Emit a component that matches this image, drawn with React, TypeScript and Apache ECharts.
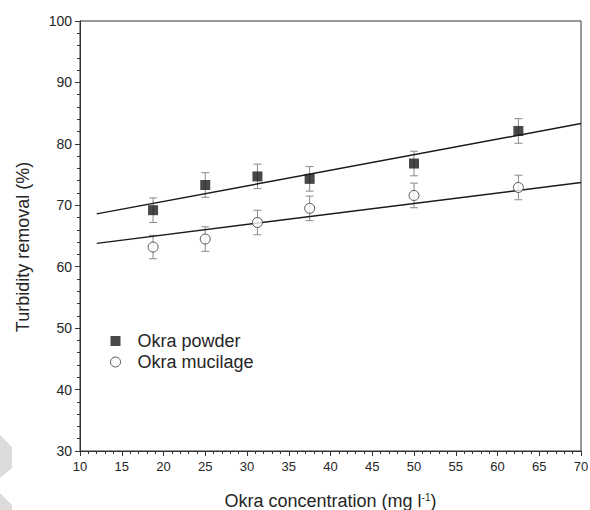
import React, { useEffect, useRef } from "react";
import * as echarts from "echarts";

const concentrations = [18.75, 25, 31.25, 37.5, 50, 62.5];
const powderValues = [69.2, 73.3, 74.7, 74.3, 76.8, 82.1];
const powderErrors = [2.0, 2.0, 2.0, 2.0, 2.0, 2.0];
const mucilageValues = [63.2, 64.5, 67.2, 69.5, 71.6, 72.9];
const mucilageErrors = [1.9, 2.0, 2.0, 2.0, 2.0, 2.0];
const fitX = [12, 70];
const powderFit = [68.6, 83.3];
const mucilageFit = [63.8, 73.7];
const xTicks = [10, 70, 5];
const yTicks = [30, 100, 10];
const yTitle = "Turbidity removal (%)";

const FONT = "'Liberation Sans', Arial, sans-serif";
const TEXT = "#262626";

function errorSeries(name: string, values: number[], errs: number[]) {
  const data = concentrations.map((x, i) => [x, values[i] - errs[i], values[i] + errs[i]]);
  return {
    type: "custom",
    name: name + "-err",
    data,
    z: 1,
    renderItem: (params: any, api: any) => {
      const x = api.value(0);
      const lo = api.coord([x, api.value(1)]);
      const hi = api.coord([x, api.value(2)]);
      const hw = 4;
      const style = { stroke: "#8a8a8a", lineWidth: 1, fill: "none" };
      return {
        type: "group",
        children: [
          { type: "line", shape: { x1: lo[0], y1: lo[1], x2: hi[0], y2: hi[1] }, style },
          { type: "line", shape: { x1: lo[0] - hw, y1: lo[1], x2: lo[0] + hw, y2: lo[1] }, style },
          { type: "line", shape: { x1: hi[0] - hw, y1: hi[1], x2: hi[0] + hw, y2: hi[1] }, style },
        ],
      };
    },
  };
}

export default function App() {
  const ref = useRef<HTMLDivElement>(null);
  useEffect(() => {
    if (!ref.current) return;
    const chart = echarts.init(ref.current, undefined, { renderer: "svg" });
    chart.setOption({
      animation: false,
      backgroundColor: "#ffffff",
      textStyle: { fontFamily: FONT },
      grid: {
        left: 80,
        right: 9,
        top: 21,
        bottom: 59,
        show: true,
        borderColor: "#333",
        borderWidth: 1,
        containLabel: false,
        outerBoundsMode: "none",
      },
      legend: {
        orient: "vertical",
        left: 105,
        top: 327,
        itemWidth: 10,
        itemHeight: 10,
        itemGap: 3,
        textStyle: { fontSize: 18, color: TEXT, fontFamily: FONT, padding: [0, 0, 0, 12] },
        data: [
          { name: "Okra powder", icon: "rect", itemStyle: { color: "#1a1a1a" } },
          {
            name: "Okra mucilage",
            icon: "circle",
            itemStyle: { color: "#ffffff", borderColor: "#333", borderWidth: 1 },
          },
        ],
      },
      xAxis: {
        type: "value",
        min: xTicks[0],
        max: xTicks[1],
        interval: xTicks[2],
        splitLine: { show: false },
        axisLine: { lineStyle: { color: "#333", width: 1 } },
        axisTick: { inside: false, length: 5, lineStyle: { color: "#333" } },
        minorTick: { show: true, splitNumber: 5, length: 3, lineStyle: { color: "#333" } },
        axisLabel: { fontSize: 13, color: TEXT, margin: 9, fontFamily: FONT },
        name: "{a|Okra concentration (mg l}{s|-1}{a|)}",
        nameLocation: "middle",
        nameGap: 41,
        nameTextStyle: {
          rich: {
            a: { fontSize: 18, color: TEXT, fontFamily: FONT },
            s: { fontSize: 10, color: TEXT, fontFamily: FONT, verticalAlign: "top", padding: [0, 0, 8, 0] },
          },
        },
      },
      yAxis: {
        type: "value",
        min: yTicks[0],
        max: yTicks[1],
        interval: yTicks[2],
        splitLine: { show: false },
        axisLine: { show: true, lineStyle: { color: "#333", width: 1 } },
        axisTick: { show: true, inside: false, length: 5, lineStyle: { color: "#333" } },
        minorTick: { show: true, splitNumber: 5, length: 3, lineStyle: { color: "#333" } },
        axisLabel: { fontSize: 14, color: TEXT, margin: 8, fontFamily: FONT },
      },
      series: [
        {
          type: "line",
          name: "powder-fit",
          data: fitX.map((x, i) => [x, powderFit[i]]),
          symbol: "none",
          lineStyle: { color: "#1a1a1a", width: 1.5 },
          z: 2,
          silent: true,
        },
        {
          type: "line",
          name: "mucilage-fit",
          data: fitX.map((x, i) => [x, mucilageFit[i]]),
          symbol: "none",
          lineStyle: { color: "#1a1a1a", width: 1.5 },
          z: 2,
          silent: true,
        },
        errorSeries("Okra powder", powderValues, powderErrors),
        errorSeries("Okra mucilage", mucilageValues, mucilageErrors),
        {
          type: "scatter",
          name: "Okra powder",
          data: concentrations.map((x, i) => [x, powderValues[i]]),
          symbol: "rect",
          symbolSize: 10,
          itemStyle: { color: "#1a1a1a" },
          z: 5,
        },
        {
          type: "scatter",
          name: "Okra mucilage",
          data: concentrations.map((x, i) => [x, mucilageValues[i]]),
          symbol: "circle",
          symbolSize: 10,
          itemStyle: { color: "#ffffff", borderColor: "#333", borderWidth: 1 },
          z: 5,
        },
      ],
      graphic: [
        {
          type: "text",
          x: 23,
          y: 247,
          rotation: Math.PI / 2,
          style: {
            text: yTitle,
            fontSize: 18,
            fontFamily: FONT,
            fill: TEXT,
            align: "center",
            verticalAlign: "middle",
          },
          silent: true,
        },
        {
          type: "polygon",
          shape: { points: [[0, 435], [12, 447], [12, 468], [0, 478]] },
          style: { fill: "#dcdcdc" },
          silent: true,
        },
        {
          type: "polygon",
          shape: { points: [[0, 493], [12, 505], [12, 510], [0, 510]] },
          style: { fill: "#dcdcdc" },
          silent: true,
        },
      ],
    });
    return () => chart.dispose();
  }, []);
  return (
    <div
      ref={ref}
      style={{ position: "fixed", left: 0, top: 0, width: 590, height: 510, background: "#fff" }}
    />
  );
}
